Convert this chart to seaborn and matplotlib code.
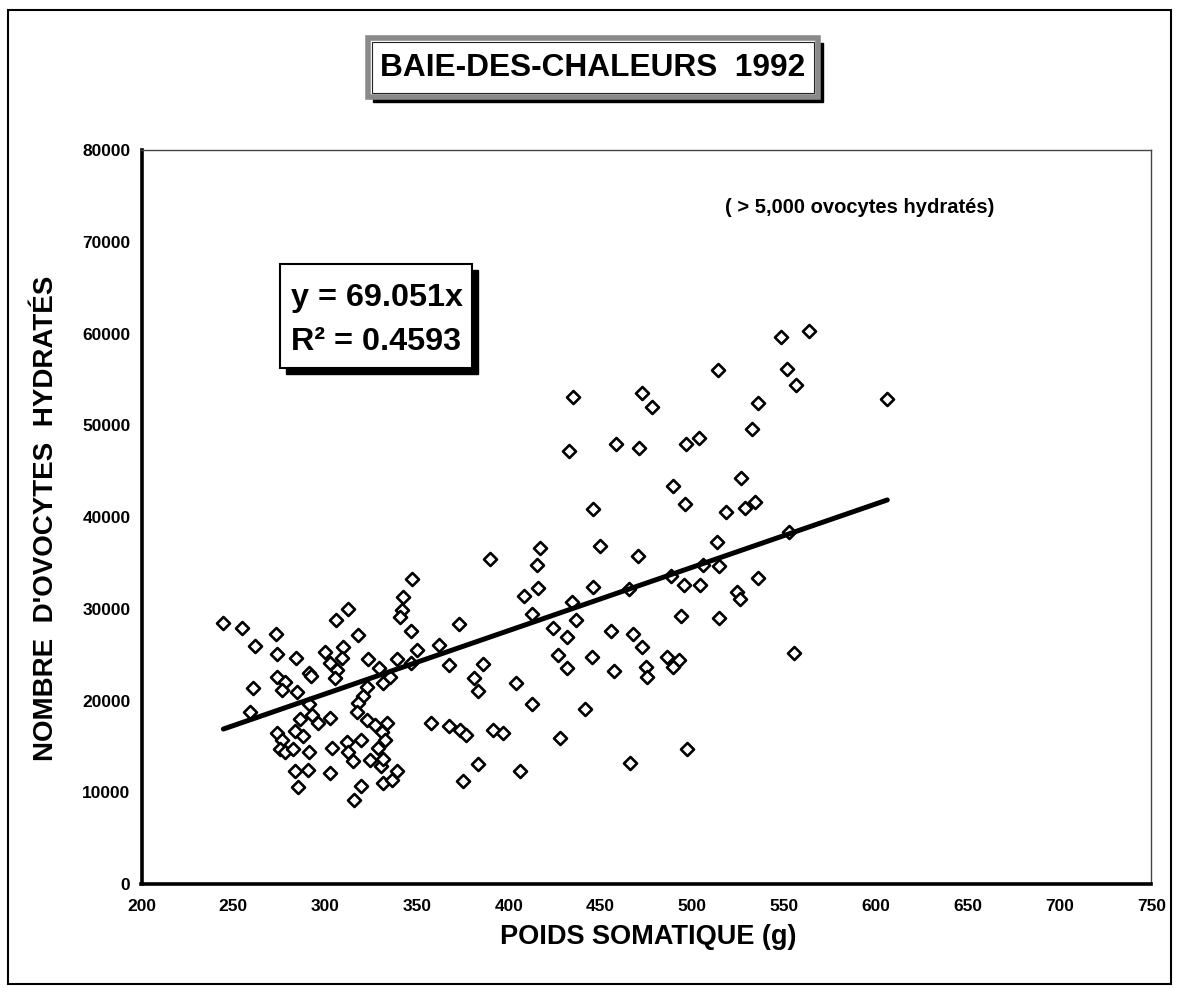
import numpy as np
import pandas as pd
import seaborn as sns
import matplotlib
matplotlib.use("Agg")
import matplotlib.pyplot as plt
from matplotlib.patches import Rectangle

# ---------------- data ----------------
poids = [
    244.6, 254.6, 261.8, 273.1, 274.0, 284.1, 260.9, 259.3, 273.6, 278.2,
    276.4, 284.5, 291.4, 292.2, 300.0, 302.7, 309.9, 309.0, 306.6, 305.4,
    305.8, 312.3, 317.7, 323.2, 329.4, 322.6, 320.8, 318.1, 317.2, 331.7,
    335.3, 291.2, 292.7, 286.3, 296.3, 302.7, 283.6, 288.1, 273.6, 276.4,
    275.4, 278.2, 282.7, 291.4, 303.6, 283.6, 290.8, 285.4, 302.7, 311.8,
    319.5, 312.6, 315.0, 324.5, 330.4, 319.5, 315.9, 331.7, 336.3, 322.6,
    327.1, 333.5, 330.8, 332.6, 328.6, 331.7,
    347.2, 342.6, 341.7, 340.8, 346.6, 349.9, 339.0, 346.6, 339.0, 362.2,
    373.1, 367.6, 385.8, 381.3, 383.4, 404.0, 412.5, 389.8, 417.0, 415.2,
    415.8, 408.5, 412.5, 424.3, 427.0, 431.6, 431.6, 434.6, 357.7, 367.6,
    373.5, 376.7, 391.2, 397.0, 383.1, 374.9, 406.1, 428.0,
    434.8, 472.4, 477.9, 432.8, 458.2, 470.9, 496.3, 503.6, 526.3, 489.7,
    496.1, 518.2, 528.7, 446.1, 449.7, 470.6, 513.3, 445.8, 436.5, 465.5,
    488.4, 505.7, 514.6, 495.3, 504.2, 524.2, 526.0, 493.8, 514.7, 455.6,
    467.6, 472.8, 445.2, 457.4, 474.8, 475.2, 486.1, 492.9, 489.7, 441.6,
    497.0, 466.1,
    548.3, 563.6, 551.8, 556.5, 535.9, 532.3, 606.2, 534.2, 552.8, 535.9,
    555.6, 514.2,
]
ovocytes = [
    28410, 27940, 25940, 27210, 25030, 24600, 21400, 18780, 22600, 22050,
    21150, 20960, 22960, 22700, 25320, 24120, 25800, 24600, 23320, 22420,
    28770, 29970, 27100, 24490, 23580, 21500, 20490, 19700, 18780, 21870,
    22600, 19620, 18420, 17950, 17510, 18130, 16710, 16130, 16490, 15690,
    14680, 14420, 14680, 14420, 14790, 12350, 12420, 10540, 12060, 15510,
    15690, 14420, 13440, 13510, 12890, 10680, 9160, 10970, 11330, 17870,
    17330, 17580, 16600, 15690, 14790, 13590,
    33210, 31250, 29860, 29130, 27610, 25500, 24490, 24050, 12350, 26050,
    28300, 23870, 23940, 22490, 21040, 21870, 19590, 35420, 36590, 34770,
    32230, 31390, 29430, 27860, 24960, 23510, 26880, 30770, 17580, 17250,
    16780, 16240, 16780, 16420, 13080, 11250, 12350, 15880,
    53100, 53550, 52030, 47230, 47960, 47560, 47920, 48580, 44220, 43410,
    41380, 40580, 40950, 40840, 36870, 35780, 37310, 32340, 28770, 32150,
    33590, 34770, 34700, 32590, 32590, 31850, 31030, 29210, 28960, 27610,
    27210, 25870, 24710, 23250, 23690, 22520, 24710, 24410, 23690, 19040,
    14680, 13220,
    59580, 60300, 56090, 54380, 52390, 49550, 52820, 41670, 38330, 33390,
    25140, 56020,
]
slope = 69.051
r2_text = "0.4593"

x_ticks = [200, 250, 300, 350, 400, 450, 500, 550, 600, 650, 700, 750]
y_ticks = [0, 10000, 20000, 30000, 40000, 50000, 60000, 70000, 80000]
x_tick_labels = [str(v) for v in x_ticks]
y_tick_labels = [str(v) for v in y_ticks]

title = "BAIE-DES-CHALEURS  1992"
x_label = "POIDS SOMATIQUE (g)"
y_label = "NOMBRE  D'OVOCYTES  HYDRATÉS"
note = "( > 5,000 ovocytes hydratés)"

# ---------------- style ----------------
sns.set_theme(style="white")
plt.rcParams["font.family"] = ["Liberation Sans", "DejaVu Sans"]
plt.rcParams["font.weight"] = "bold"
for key in ["text.color", "axes.labelcolor", "xtick.color", "ytick.color",
            "axes.edgecolor"]:
    plt.rcParams[key] = "black"

W, H = 1178, 988
fig = plt.figure(figsize=(W / 100, H / 100), dpi=100)
fig.patch.set_facecolor("white")


def fx(px):
    return px / W


def fy(py):
    return 1 - py / H


ax = fig.add_axes([fx(141.5), fy(884), fx(1151.3) - fx(141.5), fy(150) - fy(884)])

df = pd.DataFrame({"poids": poids, "ovocytes": ovocytes})
sns.scatterplot(data=df, x="poids", y="ovocytes", marker="D", s=44,
                color="white", edgecolor="black", linewidth=1.9,
                ax=ax, zorder=3, legend=False)

line_x = np.array([min(poids), max(poids)])
line_df = pd.DataFrame({"x": line_x, "y": slope * line_x})
sns.lineplot(data=line_df, x="x", y="y", color="black", linewidth=3.6,
             ax=ax, zorder=4, legend=False)

ax.set_xlim(200, 750)
ax.set_ylim(0, 80000)
ax.set_xticks(x_ticks)
ax.set_xticklabels(x_tick_labels)
ax.set_yticks(y_ticks)
ax.set_yticklabels(y_tick_labels)
ax.tick_params(axis="both", direction="inout", length=10, width=1.5,
               colors="black", labelsize=12.5)
ax.tick_params(axis="x", pad=6)
ax.tick_params(axis="y", pad=3)
for lab in ax.get_xticklabels() + ax.get_yticklabels():
    lab.set_fontweight("bold")
    lab.set_color("black")

for side in ["left", "bottom"]:
    ax.spines[side].set_linewidth(2.6)
    ax.spines[side].set_color("black")
for side in ["top", "right"]:
    ax.spines[side].set_linewidth(1.0)
    ax.spines[side].set_color("#444444")

ax.set_xlabel("")
ax.set_ylabel("")
fig.text(fx(648), fy(937), x_label, ha="center", va="center",
         fontsize=19.5, fontweight="bold", color="black")
fig.text(fx(46), fy(518), y_label, ha="center", va="center", rotation=90,
         fontsize=20, fontweight="bold", color="black")

fig.text(fx(860), fy(207), note, ha="center", va="center",
         fontsize=14.5, fontweight="bold", color="black")

# page frame
fig.add_artist(Rectangle((fx(8), fy(984)), fx(1171) - fx(8), fy(10) - fy(984),
                         transform=fig.transFigure, fill=False,
                         edgecolor="black", linewidth=1.5))

# title box
tb = (368, 38, 818, 97)
fig.add_artist(Rectangle((fx(tb[0] + 5), fy(tb[3] + 5)), fx(tb[2]) - fx(tb[0]),
                         fy(tb[1]) - fy(tb[3]), transform=fig.transFigure,
                         facecolor="black", edgecolor="black", zorder=5))
fig.add_artist(Rectangle((fx(tb[0]), fy(tb[3])), fx(tb[2]) - fx(tb[0]),
                         fy(tb[1]) - fy(tb[3]), transform=fig.transFigure,
                         facecolor="white", edgecolor="#8a8a8a", linewidth=4,
                         zorder=6))
fig.add_artist(Rectangle((fx(tb[0] + 4), fy(tb[3] - 4)), fx(tb[2] - 8) - fx(tb[0]),
                         fy(tb[1]) - fy(tb[3] - 8), transform=fig.transFigure,
                         fill=False, edgecolor="#222222", linewidth=0.8,
                         zorder=7))
fig.text(fx(593), fy(68), title, ha="center", va="center", fontsize=22.8,
         fontweight="bold", color="black", zorder=8)

# equation box
eb = (280, 264, 472, 368)
fig.add_artist(Rectangle((fx(eb[0] + 6), fy(eb[3] + 6)), fx(eb[2]) - fx(eb[0]),
                         fy(eb[1]) - fy(eb[3]), transform=fig.transFigure,
                         facecolor="black", edgecolor="black", zorder=5))
fig.add_artist(Rectangle((fx(eb[0]), fy(eb[3])), fx(eb[2]) - fx(eb[0]),
                         fy(eb[1]) - fy(eb[3]), transform=fig.transFigure,
                         facecolor="white", edgecolor="black", linewidth=1.5,
                         zorder=6))
fig.text(fx(291), fy(298), f"y = {slope:.3f}x", ha="left", va="center",
         fontsize=23.3, fontweight="bold", color="black", zorder=8)
fig.text(fx(291), fy(342), f"R² = {r2_text}", ha="left", va="center",
         fontsize=23.3, fontweight="bold", color="black", zorder=8)

fig.savefig("out.png", dpi=100)
